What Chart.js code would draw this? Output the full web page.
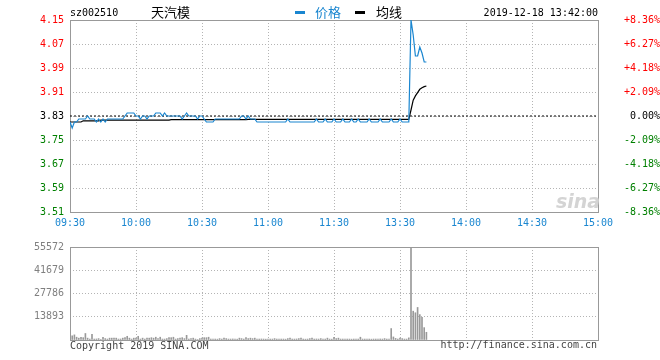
<!DOCTYPE html>
<html>
<head>
<meta charset="utf-8">
<script src="https://cdn.jsdelivr.net/npm/chart.js@4.4.1/dist/chart.umd.min.js"></script>
<style>
  body { margin: 0; background: #fff; width: 660px; height: 360px; position: relative; overflow: hidden;
         font-family: "DejaVu Sans Mono", monospace; font-size: 10px; }
  canvas { position: absolute; left: 0; }
  #price { top: 0; }
  #vol { top: 235px; }
  .t { position: absolute; white-space: nowrap; line-height: 1; }
  .cjk { font-family: "Noto Sans CJK SC", sans-serif; font-size: 13px; }
  .dash { position: absolute; width: 10px; height: 3px; }
</style>
</head>
<body>
<canvas id="price" width="660" height="235"></canvas>
<canvas id="vol" width="660" height="125"></canvas>

<div class="t" style="left:70px;top:8px;color:#000">sz002510</div>
<div class="t cjk" style="left:151px;top:5px;color:#000">天汽模</div>
<div class="dash" style="left:295px;top:11px;background:#1a86d0"></div>
<div class="t cjk" style="left:315px;top:5px;color:#1a86d0">价格</div>
<div class="dash" style="left:355px;top:11px;background:#000"></div>
<div class="t cjk" style="left:376px;top:5px;color:#000">均线</div>
<div class="t" style="right:62px;top:8px;color:#000">2019-12-18 13:42:00</div>
<div class="t" style="left:556px;top:190px;font:italic bold 19px 'DejaVu Sans',sans-serif;color:#d4d4d4">sina</div>
<div class="t" style="left:70px;top:341px;color:#444">Copyright 2019 SINA.COM</div>
<div class="t" style="right:63px;top:340px;color:#444">http://finance.sina.com.cn</div>

<script>
// trading minute index: 0 = 09:30, 120 = 11:30/13:00, 240 = 15:00
const prevClose = 3.83

const priceTicks = [3.51, 3.59, 3.67, 3.75, 3.83, 3.91, 3.99, 4.07, 4.15]
const pctLabels = ['-8.36%', '-6.27%', '-4.18%', '-2.09%', '0.00%', '+2.09%', '+4.18%', '+6.27%', '+8.36%']
const timeTicks = [0, 30, 60, 90, 120, 150, 180, 210, 240]
const timeLabels = ['09:30', '10:00', '10:30', '11:00', '11:30', '13:30', '14:00', '14:30', '15:00']
const volTicks = [0, 13893, 27786, 41679, 55572]
const volLabels = ['', '13893', '27786', '41679', '55572']

const prices = [
  3.81, 3.79, 3.81, 3.81, 3.82, 3.82, 3.82, 3.82, 3.83, 3.82,
  3.82, 3.82, 3.81, 3.82, 3.81, 3.82, 3.81, 3.82, 3.82, 3.82,
  3.82, 3.82, 3.82, 3.82, 3.82, 3.83, 3.84, 3.84, 3.84, 3.84,
  3.83, 3.83, 3.82, 3.83, 3.83, 3.82, 3.83, 3.83, 3.83, 3.84,
  3.84, 3.84, 3.83, 3.84, 3.83, 3.83, 3.83, 3.83, 3.83, 3.83,
  3.83, 3.82, 3.83, 3.84, 3.83, 3.83, 3.83, 3.83, 3.82, 3.83,
  3.83, 3.82, 3.81, 3.81, 3.81, 3.81, 3.82, 3.82, 3.82, 3.82,
  3.82, 3.82, 3.82, 3.82, 3.82, 3.82, 3.82, 3.82, 3.83, 3.83,
  3.82, 3.83, 3.82, 3.82, 3.82, 3.81, 3.81, 3.81, 3.81, 3.81,
  3.81, 3.81, 3.81, 3.81, 3.81, 3.81, 3.81, 3.81, 3.81, 3.82,
  3.81, 3.81, 3.81, 3.81, 3.81, 3.81, 3.81, 3.81, 3.81, 3.81,
  3.81, 3.81, 3.82, 3.81, 3.81, 3.81, 3.82, 3.81, 3.81, 3.81,
  3.82, 3.81, 3.81, 3.81, 3.82, 3.81, 3.81, 3.81, 3.82, 3.81,
  3.81, 3.82, 3.81, 3.81, 3.81, 3.81, 3.82, 3.81, 3.81, 3.81,
  3.81, 3.82, 3.81, 3.81, 3.81, 3.81, 3.82, 3.81, 3.81, 3.81,
  3.82, 3.81, 3.81, 3.81, 3.81, 4.15, 4.10, 4.03, 4.03, 4.06,
  4.04, 4.01, 4.01
]

const avgPrices = [
  3.810, 3.810, 3.810, 3.810, 3.810, 3.810, 3.814, 3.814, 3.814, 3.814,
  3.814, 3.814, 3.814, 3.814, 3.816, 3.816, 3.816, 3.816, 3.816, 3.816,
  3.816, 3.816, 3.816, 3.816, 3.816, 3.816, 3.816, 3.816, 3.816, 3.816,
  3.816, 3.816, 3.816, 3.816, 3.816, 3.816, 3.816, 3.816, 3.816, 3.816,
  3.816, 3.816, 3.816, 3.816, 3.816, 3.816, 3.818, 3.818, 3.818, 3.818,
  3.818, 3.818, 3.818, 3.818, 3.818, 3.818, 3.818, 3.818, 3.818, 3.818,
  3.818, 3.818, 3.818, 3.818, 3.818, 3.818, 3.818, 3.818, 3.818, 3.818,
  3.818, 3.818, 3.818, 3.818, 3.818, 3.818, 3.818, 3.818, 3.818, 3.818,
  3.818, 3.819, 3.819, 3.819, 3.819, 3.819, 3.819, 3.819, 3.819, 3.819,
  3.819, 3.819, 3.819, 3.819, 3.819, 3.819, 3.819, 3.819, 3.819, 3.819,
  3.819, 3.819, 3.819, 3.819, 3.819, 3.819, 3.819, 3.819, 3.819, 3.819,
  3.819, 3.819, 3.819, 3.819, 3.819, 3.819, 3.819, 3.819, 3.819, 3.819,
  3.819, 3.819, 3.819, 3.819, 3.819, 3.819, 3.819, 3.819, 3.819, 3.819,
  3.819, 3.819, 3.819, 3.819, 3.819, 3.819, 3.819, 3.819, 3.819, 3.819,
  3.819, 3.819, 3.819, 3.819, 3.819, 3.819, 3.819, 3.819, 3.819, 3.819,
  3.819, 3.819, 3.819, 3.819, 3.819, 3.850, 3.883, 3.897, 3.908, 3.919,
  3.924, 3.928, 3.930
]

const volumes = [
  5840, 2500, 3060, 1670, 1110, 1670, 1390, 3890, 1110, 560,
  3340, 560, 610, 830, 280, 1670, 830, 560, 1110, 1110,
  1110, 1110, 560, 610, 1110, 1390, 2220, 1110, 560, 1110,
  1110, 2220, 560, 1110, 560, 1110, 1110, 1390, 1110, 1670,
  830, 1670, 560, 560, 830, 1390, 1390, 1670, 560, 830,
  1110, 1390, 830, 2780, 560, 830, 1110, 560, 280, 830,
  1110, 1390, 1390, 1670, 560, 610, 560, 500, 830, 560,
  1110, 830, 560, 560, 610, 560, 500, 1110, 830, 560,
  1390, 830, 1110, 830, 1110, 560, 560, 610, 560, 500,
  560, 560, 560, 830, 560, 610, 560, 560, 500, 830,
  1110, 560, 560, 610, 830, 1110, 560, 500, 560, 830,
  1110, 560, 610, 560, 830, 560, 560, 1110, 560, 500,
  1670, 830, 1110, 560, 560, 610, 560, 560, 500, 560,
  560, 560, 1670, 560, 560, 610, 560, 500, 560, 560,
  560, 610, 560, 830, 560, 560, 6840, 1830, 950, 560,
  1110, 830, 560, 560, 1280, 55572, 17230, 16280, 19450, 15170,
  13500, 7390, 4610
]

const BLUE = '#1a86d0'
const GRID = '#b4b4b4'
const FONT = { family: 'DejaVu Sans Mono', size: 10 }

const tickColor = (v) => {
  if (Math.abs(v - prevClose) < 1e-6) return '#000'
  return v > prevClose ? '#ff0000' : '#008000'
}

// solid gray box around each plot area
const framePlugin = {
  id: 'frame',
  beforeDatasetsDraw(chart) {
    const { ctx, chartArea: a } = chart
    ctx.save()
    ctx.strokeStyle = '#999'
    ctx.lineWidth = 1
    ctx.setLineDash([])
    ctx.strokeRect(a.left + 0.5, a.top + 0.5, a.right - a.left, a.bottom - a.top)
    ctx.restore()
  }
}

const timeAxis = (showLabels) => ({
  type: 'linear',
  min: 0,
  max: 240,
  offset: false,
  afterBuildTicks: (scale) => { scale.ticks = timeTicks.map((v) => ({ value: v })) },
  afterFit: (scale) => { scale.height = showLabels ? 23 : 20 },
  grid: { color: GRID, drawTicks: false, offset: false },
  border: { display: false, dash: [1, 2] },
  ticks: {
    display: showLabels,
    padding: 5,
    maxRotation: 0,
    autoSkip: false,
    font: FONT,
    color: BLUE,
    callback: (v, i) => timeLabels[i]
  }
})

const makePriceChart = function () {
  const ctx = document.getElementById('price')
  const pts = (arr) => arr.map((v, i) => ({ x: i, y: v }))
  return new Chart(ctx, {
    type: 'line',
    data: {
      datasets: [
        { label: '价格', data: pts(prices), borderColor: BLUE, borderWidth: 1.2, pointRadius: 0, tension: 0 },
        { label: '均线', data: pts(avgPrices), borderColor: '#000', borderWidth: 1.2, pointRadius: 0, tension: 0 },
        { label: 'prev', data: [{ x: 0, y: prevClose }, { x: 240, y: prevClose }], borderColor: '#000',
          borderWidth: 1, borderDash: [2, 2], pointRadius: 0 }
      ]
    },
    options: {
      responsive: false,
      animation: false,
      devicePixelRatio: 1,
      layout: { padding: { top: 20, left: 0, right: 0, bottom: 0 } },
      plugins: { legend: { display: false }, tooltip: { enabled: false } },
      scales: {
        x: timeAxis(true),
        y: {
          position: 'left',
          min: 3.51,
          max: 4.15,
          afterBuildTicks: (scale) => { scale.ticks = priceTicks.map((v) => ({ value: v })) },
          afterFit: (scale) => { scale.width = 70 },
          grid: { color: GRID, drawTicks: false },
          border: { display: false, dash: [1, 2] },
          ticks: {
            padding: 6,
            font: FONT,
            color: (c) => tickColor(c.tick.value),
            callback: (v) => v.toFixed(2)
          }
        },
        pct: {
          position: 'right',
          min: 3.51,
          max: 4.15,
          afterBuildTicks: (scale) => { scale.ticks = priceTicks.map((v) => ({ value: v })) },
          afterFit: (scale) => { scale.width = 62 },
          grid: { display: false, drawTicks: false },
          border: { display: false },
          ticks: {
            padding: 5,
            crossAlign: 'far',
            font: FONT,
            color: (c) => tickColor(c.tick.value),
            callback: (v, i) => pctLabels[i]
          }
        }
      }
    },
    plugins: [framePlugin]
  })
}

const makeVolumeChart = function () {
  const ctx = document.getElementById('vol')
  return new Chart(ctx, {
    type: 'bar',
    data: {
      datasets: [
        { label: '成交量', data: volumes.map((v, i) => ({ x: i, y: v })), backgroundColor: '#999',
          barThickness: 1, borderWidth: 0 }
      ]
    },
    options: {
      responsive: false,
      animation: false,
      devicePixelRatio: 1,
      layout: { padding: { top: 5, left: 0, right: 62, bottom: 0 } },
      plugins: { legend: { display: false }, tooltip: { enabled: false } },
      scales: {
        x: timeAxis(false),
        y: {
          position: 'left',
          min: 0,
          max: 55572,
          afterBuildTicks: (scale) => { scale.ticks = volTicks.map((v) => ({ value: v })) },
          afterFit: (scale) => { scale.width = 70 },
          grid: { color: GRID, drawTicks: false },
          border: { display: false, dash: [1, 2] },
          ticks: {
            padding: 6,
            font: FONT,
            color: '#808080',
            callback: (v, i) => volLabels[i]
          }
        }
      }
    },
    plugins: [framePlugin]
  })
}

const init = function () {
  makePriceChart()
  makeVolumeChart()
}

document.addEventListener('DOMContentLoaded', init)
</script>
</body>
</html>
